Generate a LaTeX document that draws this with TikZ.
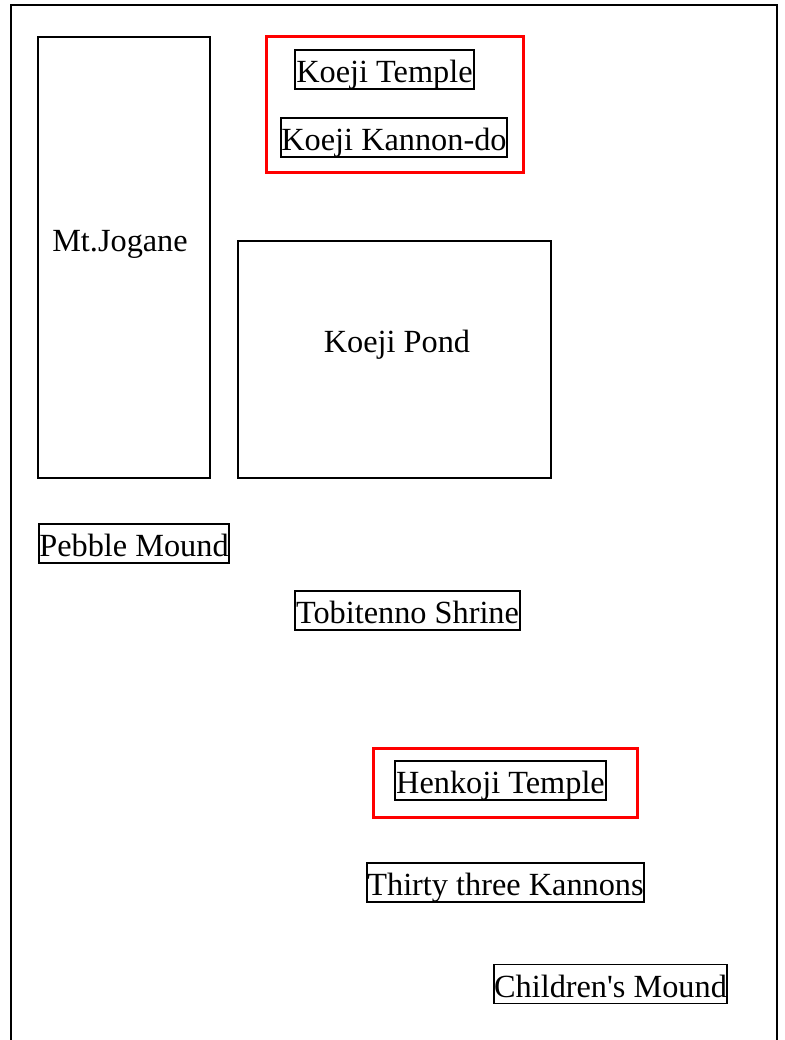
\documentclass[tikz,border=0pt]{standalone}
\usepackage{fontspec}
\setmainfont{Liberation Serif}
\begin{document}
\begin{tikzpicture}[x=1pt,y=-1pt,
  lbl/.style={font=\fontsize{32.3}{38}\selectfont, inner sep=0pt},
  box/.style={draw=black, line width=1.5pt, inner sep=0pt, font=\fontsize{32.3}{38}\selectfont, text height=32.5pt, text depth=6.5pt},
  shapebox/.style={draw=black, line width=1.5pt, inner sep=0pt},
  redbox/.style={draw=red, line width=3pt, inner sep=0pt}]
\useasboundingbox (0,0) rectangle (784,1040);
% outer frame
\coordinate (fbl) at (11,1050);
\coordinate (ftl) at (11,5);
\coordinate (ftr) at (777,5);
\coordinate (fbr) at (777,1050);
\begin{scope}
\clip (0,0) rectangle (784,1040);
\draw[line width=2pt] (fbl) -- (ftl) -- (ftr) -- (fbr);
\end{scope}
% Mt.Jogane
\node[shapebox, minimum width=172pt, minimum height=441pt] (jogane) at (124,257.5) {};
\node[lbl] (joganet) at (120,244) {Mt.Jogane};
% Koeji Pond
\node[shapebox, minimum width=313pt, minimum height=237pt] (pond) at (394.5,359.5) {};
\node[lbl] (pondt) at (397,345) {Koeji Pond};
% red groups
\node[redbox, minimum width=257pt, minimum height=136pt] (red1) at (394.5,105) {};
\node[redbox, minimum width=264pt, minimum height=69pt] (red2) at (505,782.5) {};
% labelled boxes
\node[box, minimum width=179pt] (ktemple) at (384.5,69.5) {Koeji Temple};
\node[box, minimum width=226pt] (kannondo) at (394,137.5) {Koeji Kannon-do};
\node[box, minimum width=190pt] (pebble) at (134,543.5) {Pebble Mound};
\node[box, minimum width=225pt] (tobi) at (407.5,610.5) {Tobitenno Shrine};
\node[box, minimum width=211pt] (henkoji) at (500.5,780.5) {Henkoji Temple};
\node[box, minimum width=277pt] (thirty) at (505.5,882.5) {Thirty three Kannons};
\node[box, minimum width=233pt] (children) at (610.5,984) {Children\textquotesingle s Mound};
\end{tikzpicture}
\end{document}
